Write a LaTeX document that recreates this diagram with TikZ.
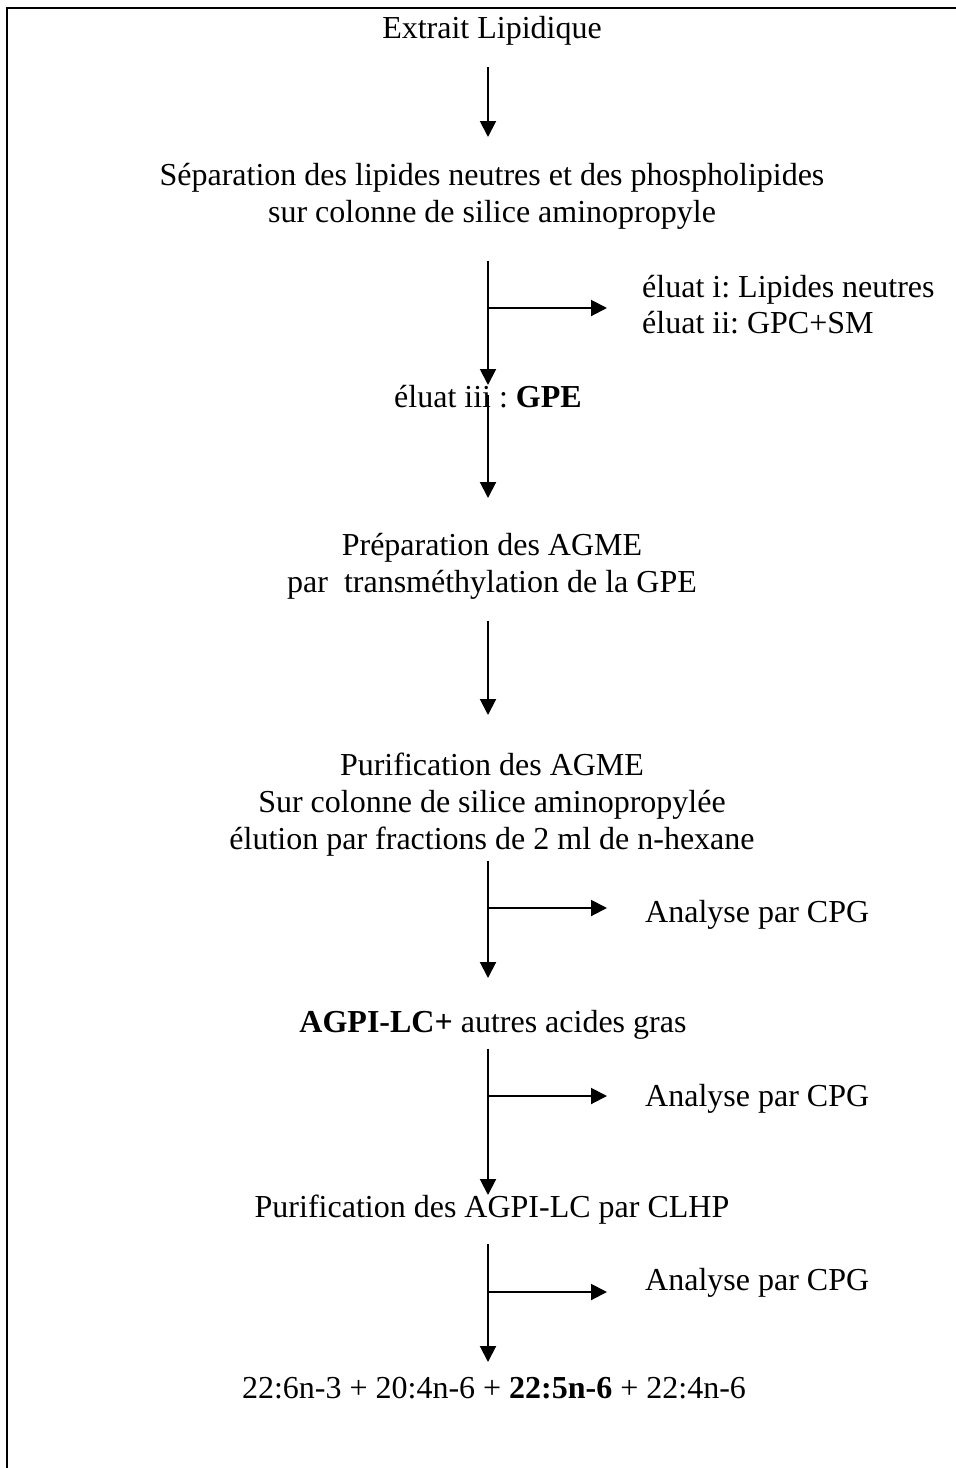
\documentclass[tikz,border=0pt]{standalone}
\usepackage{fontspec}
\setmainfont{Liberation Serif}
\usetikzlibrary{arrows.meta}
\frenchspacing
\begin{document}
\begin{tikzpicture}[x=1pt, y=-1pt,
    stage/.style={anchor=north, inner sep=0pt, align=center, font=\fontsize{32}{37}\selectfont},
    side/.style={anchor=north west, inner sep=0pt, align=left, font=\fontsize{32}{36}\selectfont},
    flow/.style={line width=2pt, -{Triangle[width=16pt,length=16pt]}}]
    \useasboundingbox (0,0) rectangle (956,1468);
    \draw[line width=2.5pt] (7,1468) -- (7,8) -- (956,8);
    \coordinate (spine) at (488,0);
    \node[stage] (extrait) at (492,16) {Extrait Lipidique};
    \node[stage] (sep) at (492,163) {Séparation des lipides neutres et des phospholipides\\sur colonne de silice aminopropyle};
    \node[stage] (eluat) at (488,385) {éluat iii : \textbf{GPE}};
    \node[stage] (prep) at (492,533) {Préparation des AGME\\par\ \ transméthylation de la GPE};
    \node[stage] (purif) at (492,753) {Purification des AGME\\Sur colonne de silice aminopropylée\\élution par fractions de 2 ml de n-hexane};
    \node[stage] (agpi) at (493,1010) {\textbf{AGPI-LC+} autres acides gras};
    \node[stage] (clhp) at (492,1195) {Purification des AGPI-LC par CLHP};
    \node[stage] (final) at (494,1377) {22:6n-3 + 20:4n-6 + \textbf{22:5n-6} + 22:4n-6};
    \node[side] (elim) at (642,275) {éluat i: Lipides neutres\\éluat ii: GPC+SM};
    \node[side] (cpga) at (645,900) {Analyse par CPG};
    \node[side] (cpgb) at (645,1084) {Analyse par CPG};
    \node[side] (cpgc) at (645,1268) {Analyse par CPG};
    \draw[flow, shorten <=22pt, shorten >=26pt] (extrait.south -| spine) -- (sep.north -| spine);
    \draw[flow, shorten <=31pt] (sep.south -| spine) -- (eluat.north -| spine);
    \draw[flow, shorten <=10pt, shorten >=35pt] (eluat.north -| spine) -- (prep.north -| spine);
    \draw[flow, shorten <=21pt, shorten >=38pt] (prep.south -| spine) -- (purif.north -| spine);
    \draw[flow, shorten <=4pt, shorten >=32pt] (purif.south -| spine) -- (agpi.north -| spine);
    \draw[flow, shorten <=9pt] (agpi.south -| spine) -- (clhp.north -| spine);
    \draw[flow, shorten <=19pt, shorten >=15pt] (clhp.south -| spine) -- (final.north -| spine);
    \coordinate (bra) at (488,308);
    \coordinate (brb) at (488,908);
    \coordinate (brc) at (488,1096);
    \coordinate (brd) at (488,1292);
    \draw[flow, shorten >=35pt] (bra) -- (bra -| elim.west);
    \draw[flow, shorten >=38pt] (brb) -- (brb -| cpga.west);
    \draw[flow, shorten >=38pt] (brc) -- (brc -| cpgb.west);
    \draw[flow, shorten >=38pt] (brd) -- (brd -| cpgc.west);
\end{tikzpicture}
\end{document}
